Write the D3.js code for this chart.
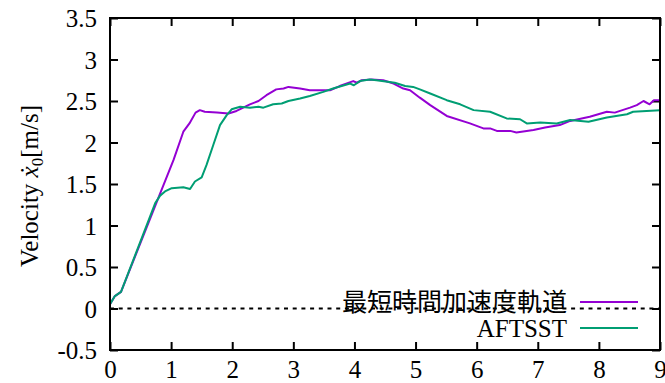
<!DOCTYPE html>
<html>
<head>
<meta charset="utf-8">
<script src="https://cdn.jsdelivr.net/npm/d3@7"></script>
<style>
  html, body { margin: 0; padding: 0; background: #fff; }
  svg { display: block; }
</style>
</head>
<body>
<svg id="chart" width="665" height="383"></svg>
<script>
// Velocity profiles: time-optimal acceleration trajectory vs. AFTSST
const timeOpt = [0, 0.08, 0.18, 0.79, 1.04, 1.2, 1.3, 1.4, 1.47, 1.55, 1.75, 1.94, 2.07, 2.29, 2.43, 2.56, 2.72, 2.84, 2.92, 3.11, 3.27, 3.6, 3.76, 3.98, 4.04, 4.12, 4.28, 4.47, 4.64, 4.8, 4.91, 5.07, 5.24, 5.51, 5.89, 6.11, 6.22, 6.33, 6.55, 6.65, 6.93, 7.12, 7.36, 7.53, 7.85, 8.13, 8.26, 8.51, 8.62, 8.73, 8.83, 8.9, 9.0];
const velOpt  = [0.05, 0.15, 0.2, 1.33, 1.79, 2.13, 2.23, 2.36, 2.39, 2.37, 2.36, 2.35, 2.38, 2.46, 2.5, 2.57, 2.64, 2.65, 2.67, 2.65, 2.63, 2.63, 2.68, 2.74, 2.72, 2.75, 2.76, 2.75, 2.71, 2.65, 2.63, 2.54, 2.45, 2.32, 2.23, 2.17, 2.17, 2.14, 2.14, 2.12, 2.15, 2.18, 2.21, 2.26, 2.31, 2.37, 2.36, 2.42, 2.45, 2.5, 2.46, 2.51, 2.51];

const timeAft = [0, 0.08, 0.18, 0.74, 0.82, 0.9, 1.01, 1.2, 1.31, 1.39, 1.5, 1.58, 1.69, 1.8, 1.91, 1.99, 2.13, 2.29, 2.43, 2.51, 2.67, 2.81, 2.92, 3.11, 3.27, 3.49, 3.65, 3.93, 3.99, 4.09, 4.25, 4.36, 4.66, 4.83, 4.96, 5.07, 5.24, 5.51, 5.73, 5.95, 6.22, 6.49, 6.71, 6.82, 7.04, 7.31, 7.53, 7.83, 8.13, 8.46, 8.56, 9.0];
const velAft  = [0.05, 0.15, 0.2, 1.27, 1.36, 1.41, 1.45, 1.46, 1.44, 1.53, 1.58, 1.73, 1.97, 2.21, 2.33, 2.4, 2.43, 2.42, 2.43, 2.42, 2.46, 2.47, 2.5, 2.53, 2.56, 2.61, 2.65, 2.71, 2.69, 2.74, 2.76, 2.75, 2.72, 2.68, 2.67, 2.64, 2.59, 2.51, 2.46, 2.39, 2.37, 2.29, 2.28, 2.23, 2.24, 2.23, 2.27, 2.25, 2.3, 2.34, 2.37, 2.39];

const seriesNames = ["最短時間加速度軌道", "AFTSST"];
const seriesColors = ["#9400d3", "#009e73"];
const xTicks = [0, 1, 2, 3, 4, 5, 6, 7, 8, 9];
const yTicks = [-0.5, 0, 0.5, 1, 1.5, 2, 2.5, 3, 3.5];

const margin = { left: 110, top: 18, right: 5, bottom: 33 };
const W = 665, H = 383;
const iw = W - margin.left - margin.right;
const ih = H - margin.top - margin.bottom;

const serif = "'Liberation Serif', 'Times New Roman', serif";
const cjk = "'Noto Sans CJK JP', sans-serif";

const svg = d3.select("#chart");
const g = svg.append("g").attr("transform", `translate(${margin.left},${margin.top})`);

const x = d3.scaleLinear().domain([0, 9]).range([0, iw]);
const y = d3.scaleLinear().domain([-0.5, 3.5]).range([ih, 0]);

const fontSize = 25;
const tickLen = 8;

// zero reference line
g.append("line")
  .attr("x1", x(0)).attr("x2", x(9))
  .attr("y1", y(0)).attr("y2", y(0))
  .attr("stroke", "#000").attr("stroke-width", 2)
  .attr("stroke-dasharray", "4,4.7");

// axes with inward ticks on all four sides (plain hyphen for negatives)
const fmt = d => String(d);
const axisLeftG = g.append("g")
  .call(d3.axisLeft(y).tickValues(yTicks).tickFormat(fmt).tickSizeInner(-tickLen).tickSizeOuter(0).tickPadding(13));
const axisBottomG = g.append("g").attr("transform", `translate(0,${ih})`)
  .call(d3.axisBottom(x).tickValues(xTicks).tickFormat(fmt).tickSizeInner(-tickLen).tickSizeOuter(0).tickPadding(0));
const axisRightG = g.append("g").attr("transform", `translate(${iw},0)`)
  .call(d3.axisRight(y).tickValues(yTicks).tickFormat("").tickSizeInner(-tickLen).tickSizeOuter(0));
const axisTopG = g.append("g")
  .call(d3.axisTop(x).tickValues(xTicks).tickFormat("").tickSizeInner(-tickLen).tickSizeOuter(0));

[axisLeftG, axisBottomG, axisRightG, axisTopG].forEach(a => {
  a.attr("font-family", null).attr("font-size", null);
  a.select(".domain").remove();
  a.selectAll(".tick line").attr("stroke", "#000").attr("stroke-width", 2);
  a.selectAll("text")
    .style("font-family", serif)
    .style("font-size", fontSize + "px")
    .attr("fill", "#000");
});
axisBottomG.selectAll(".tick text").attr("dy", null).attr("y", 28);
axisLeftG.selectAll(".tick text").attr("dy", "0.34em");

// data lines
const line = d3.line().x(d => x(d[0])).y(d => y(d[1]));
const series = [
  d3.zip(timeOpt, velOpt),
  d3.zip(timeAft, velAft)
];
series.forEach((s, i) => {
  g.append("path").datum(s)
    .attr("d", line)
    .attr("fill", "none")
    .attr("stroke", seriesColors[i])
    .attr("stroke-width", 2)
    .attr("stroke-linejoin", "round");
});

// frame
g.append("rect")
  .attr("x", 0).attr("y", 0).attr("width", iw).attr("height", ih)
  .attr("fill", "none").attr("stroke", "#000").attr("stroke-width", 2);

// legend
const legendRows = [302, 328];
seriesNames.forEach((name, i) => {
  const ly = legendRows[i];
  svg.append("text")
    .attr("x", 567).attr("y", ly)
    .attr("dy", "0.35em")
    .attr("text-anchor", "end")
    .style("font-size", fontSize + "px")
    .style("font-family", i === 0 ? cjk : serif)
    .text(name);
  svg.append("line")
    .attr("x1", 580).attr("x2", 638)
    .attr("y1", ly).attr("y2", ly)
    .attr("stroke", seriesColors[i]).attr("stroke-width", 2);
});

// y-axis title
const yt = svg.append("text")
  .attr("transform", "translate(38,186) rotate(-90)")
  .attr("text-anchor", "middle")
  .style("font-size", fontSize + "px")
  .style("font-family", serif);
yt.append("tspan").text("Velocity ");
yt.append("tspan").style("font-style", "italic").text("ẋ");
yt.append("tspan").style("font-size", "17px").attr("dy", 5).text("0");
yt.append("tspan").attr("dy", -5).text("[m/s]");
</script>
</body>
</html>
